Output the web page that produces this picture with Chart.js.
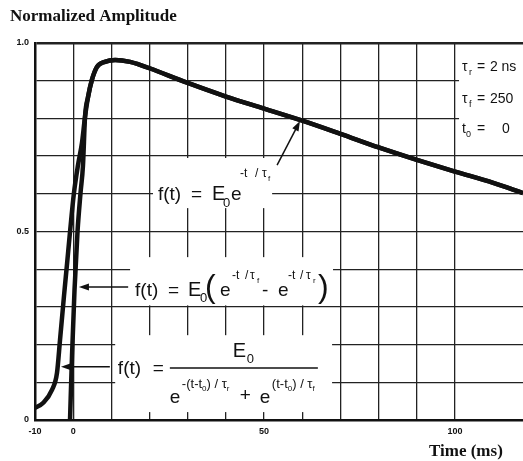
<!DOCTYPE html>
<html>
<head>
<meta charset="utf-8">
<script src="https://cdn.jsdelivr.net/npm/chart.js@4.4.0/dist/chart.umd.min.js"></script>
<style>
  html, body { margin: 0; padding: 0; background: #fff; }
  canvas { display: block; }
</style>
</head>
<body>
<canvas id="chart" width="523" height="461"></canvas>
<script>
// values (time in ms, normalized amplitude)
const logisticTime = [-10, -7.9, -5.55, -4.24, -3.45, -2.4, -1.6, -0.83, 0.2, 1.26, 2.3];
const logisticAmp  = [0.032, 0.045, 0.080, 0.125, 0.212, 0.330, 0.415, 0.499, 0.602, 0.676, 0.735];

const biexpTime = [-0.83, -0.3, 0.35, 1.13, 1.92, 2.57];
const biexpAmp  = [0, 0.172, 0.345, 0.499, 0.602, 0.676];

// shared peak and decay, both traces run into it
const decayTime = [3.1, 3.9, 4.9, 6.2, 8.3, 11.0, 14.9, 17.5, 20, 30, 40, 50, 60, 70, 80, 90, 100, 110, 117.8];
const decayAmp  = [0.804, 0.857, 0.902, 0.936, 0.950, 0.955, 0.950, 0.942, 0.933, 0.894, 0.858, 0.826, 0.794, 0.759, 0.723, 0.690, 0.659, 0.629, 0.602];

const xLabelValues = [-10, 0, 50, 100];
const yLabelValues = [0, 0.5, 1];

const SANS = '"Liberation Sans", Arial, sans-serif';
const SERIF = '"Liberation Serif", "Times New Roman", serif';

function toPoints(times, amps) {
    return times.map((t, i) => ({ x: t, y: amps[i] }));
}

function drawPieces(ctx, x0, y0, pieces) {
    let cursor = x0;
    pieces.forEach(([text, dx, dy, size]) => {
        ctx.font = size + 'px ' + SANS;
        const x = dx === null ? cursor : x0 + dx;
        ctx.fillText(text, x, y0 + dy);
        cursor = x + ctx.measureText(text).width;
    });
}

function drawArrow(ctx, x1, y1, x2, y2) {
    const a = Math.atan2(y2 - y1, x2 - x1);
    const len = 10, half = 3.5;
    ctx.beginPath();
    ctx.moveTo(x1, y1);
    ctx.lineTo(x2 - Math.cos(a) * len * 0.8, y2 - Math.sin(a) * len * 0.8);
    ctx.stroke();
    ctx.beginPath();
    ctx.moveTo(x2, y2);
    ctx.lineTo(x2 - len * Math.cos(a) + half * Math.sin(a), y2 - len * Math.sin(a) - half * Math.cos(a));
    ctx.lineTo(x2 - len * Math.cos(a) - half * Math.sin(a), y2 - len * Math.sin(a) + half * Math.cos(a));
    ctx.closePath();
    ctx.fill();
}

// white patches behind the formulas (they break the grid in the original)
const formulaPlugin = {
    id: 'formulas',
    beforeDatasetsDraw(chart) {
        const { ctx } = chart;
        const X = v => chart.scales.x.getPixelForValue(v);
        const Y = v => chart.scales.y.getPixelForValue(v);
        const boxes = [
            [20.9, 0.695, 52.1, 0.562],
            [14.9, 0.432, 68.05, 0.304],
            [11.0, 0.225, 67.8, 0.021],
            [101.05, 0.963, 118, 0.737]
        ];
        ctx.save();
        ctx.fillStyle = '#fff';
        boxes.forEach(([t1, v1, t2, v2]) => {
            ctx.fillRect(X(t1), Y(v1), X(t2) - X(t1), Y(v2) - Y(v1));
        });
        ctx.restore();
    },
    afterDatasetsDraw(chart) {
        const { ctx } = chart;
        const X = v => chart.scales.x.getPixelForValue(v);
        const Y = v => chart.scales.y.getPixelForValue(v);
        ctx.save();
        ctx.fillStyle = '#111';
        ctx.strokeStyle = '#111';
        ctx.lineWidth = 1.5;
        ctx.textBaseline = 'alphabetic';

        // f(t) = E0 e^(-t/tf)
        drawPieces(ctx, X(22.2), Y(0.584), [
            ['f(t)', 0, 0, 19], ['=', 33, 0, 19], ['E', 54, 0, 20], ['0', 65, 7, 13],
            ['e', 73, 0, 19], ['-t', 82, -23, 12], ['/', 97, -23, 12], ['τ', 104, -23, 12], ['f', 110, -19, 8]
        ]);
        drawArrow(ctx, X(53.4), Y(0.676), X(59.4), Y(0.793));

        // f(t) = E0 (e^(-t/tf) - e^(-t/tr))
        drawPieces(ctx, X(16.2), Y(0.329), [
            ['f(t)', 0, 0, 19], ['=', 33, 0, 19], ['E', 53, 0, 20], ['0', 65, 6, 13],
            ['(', 70, 1, 32], ['e', 85, 0, 19],
            ['-t', 97, -17, 12], ['/', 110, -17, 12], ['τ', 115, -17, 12], ['f', 122, -13, 8],
            ['-', 127, 0, 19], ['e', 143, 0, 19],
            ['-t', 153, -17, 12], ['/', 165, -17, 12], ['τ', 171, -17, 12], ['r', 178, -13, 8],
            [')', 183, 1, 32]
        ]);
        drawArrow(ctx, X(14.4), Y(0.353), X(1.5), Y(0.353));

        // f(t) = E0 / (e^(-(t-t0)/tr) + e^((t-t0)/tf))
        const fx = X(11.7), fy = Y(0.122);
        drawPieces(ctx, fx, fy, [
            ['f(t)', 0, 0, 19], ['=', 35, 0, 19],
            ['E', 115, -17, 20], ['0', 129, -11, 13],
            ['e', 52, 29, 19], ['-(t-t', 64, 14, 13], ['0', null, 17, 8], [') / τ', null, 14, 13], ['r', null, 17, 8],
            ['+', 122, 27, 19],
            ['e', 142, 29, 19], ['(t-t', 154, 14, 13], ['0', null, 17, 8], [') / τ', null, 14, 13], ['f', null, 17, 8]
        ]);
        ctx.beginPath();
        ctx.moveTo(fx + 52, fy - 6);
        ctx.lineTo(fx + 200, fy - 6);
        ctx.stroke();
        drawArrow(ctx, X(9.6), Y(0.141), X(-3.2), Y(0.141));

        // parameters
        drawPieces(ctx, X(101.8), Y(0.926), [
            ['τ', 0, 0, 14], ['r', 7, 4, 9], ['=', 15, 0, 14], ['2 ns', 28, 0, 14],
            ['τ', 0, 32, 14], ['f', 7, 36, 9], ['=', 15, 32, 14], ['250', 28, 32, 14],
            ['t', 0, 62, 14], ['0', 4, 66, 9], ['=', 15, 62, 14], ['0', 40, 62, 14]
        ]);
        ctx.restore();
    },
    afterDraw(chart) {
        const { ctx } = chart;
        ctx.save();
        ctx.fillStyle = '#111';
        ctx.font = 'bold 17px ' + SERIF;
        ctx.fillText('Normalized Amplitude', 10, 21);
        ctx.fillText('Time (ms)', 429, 456);
        ctx.restore();
    }
};

const curveStyle = {
    borderColor: '#111',
    borderWidth: 4.5,
    pointRadius: 0,
    fill: false,
    cubicInterpolationMode: 'monotone'
};

new Chart(document.getElementById('chart').getContext('2d'), {
    type: 'line',
    data: {
        datasets: [
            Object.assign({ label: 'logistic', data: toPoints(logisticTime.concat(decayTime), logisticAmp.concat(decayAmp)) }, curveStyle),
            Object.assign({ label: 'bi-exponential', data: toPoints(biexpTime.concat(decayTime), biexpAmp.concat(decayAmp)) }, curveStyle)
        ]
    },
    options: {
        responsive: false,
        animation: false,
        devicePixelRatio: 1,
        layout: { padding: { top: 43, right: 0, bottom: 0, left: 0 } },
        plugins: { legend: { display: false }, tooltip: { enabled: false } },
        scales: {
            x: {
                type: 'linear',
                min: -10,
                max: 117.8,
                afterFit: s => { s.height = 41; },
                afterBuildTicks: s => { s.ticks = s.ticks.filter(t => Math.abs(t.value / 10 - Math.round(t.value / 10)) < 1e-6); },
                ticks: {
                    stepSize: 10,
                    autoSkip: false,
                    maxRotation: 0,
                    padding: 6,
                    color: '#111',
                    font: { family: SANS, size: 9, weight: 'bold' },
                    callback: v => xLabelValues.includes(Math.round(v)) ? String(Math.round(v)) : ''
                },
                grid: { color: '#222', lineWidth: 1.3, drawTicks: false },
                border: { color: '#111', width: 2.5 }
            },
            y: {
                min: 0,
                max: 1,
                afterFit: s => { s.width = 35; },
                ticks: {
                    stepSize: 0.1,
                    autoSkip: false,
                    padding: 6,
                    color: '#111',
                    font: { family: SANS, size: 9, weight: 'bold' },
                    callback: v => {
                        const r = Math.round(v * 10) / 10;
                        if (!yLabelValues.includes(r)) return '';
                        return r === 0 ? '0' : r.toFixed(1);
                    }
                },
                grid: {
                    color: '#222',
                    drawTicks: false,
                    lineWidth: c => (c.tick && Math.abs(c.tick.value - 1) < 1e-6) ? 2.5 : 1.3
                },
                border: { color: '#111', width: 2.5 }
            }
        }
    },
    plugins: [formulaPlugin]
});
</script>
</body>
</html>
